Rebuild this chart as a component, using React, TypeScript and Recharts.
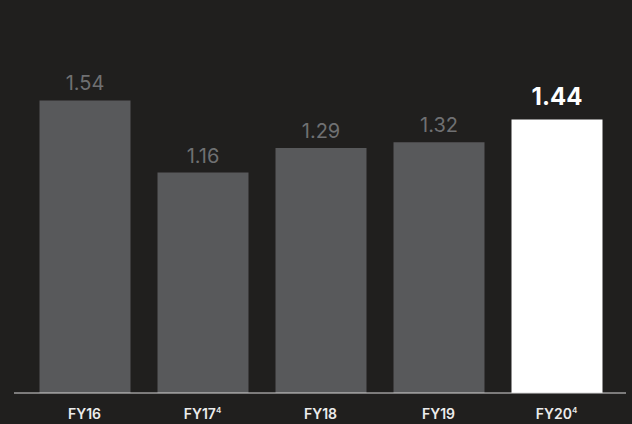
import { BarChart, Bar, XAxis, YAxis, Cell, LabelList } from 'recharts'

const years = ['FY16', 'FY17', 'FY18', 'FY19', 'FY20']
const footnotes = ['', '4', '', '', '4']
const values = [1.54, 1.16, 1.29, 1.32, 1.44]
const highlight = [false, false, false, false, true]

const data = years.map((year, i) => ({
    year,
    note: footnotes[i],
    value: values[i],
    current: highlight[i],
}))

const FONT = 'Inter, "Noto Sans", sans-serif'

function YearTick({ x, y, payload, index }: any) {
    const note = footnotes[index] || ''
    return (
        <text x={x} y={y + 18} textAnchor="middle" fill="#ececec" fontSize={14} fontWeight={600} fontFamily={FONT}>
            {payload.value}
            {note && (
                <tspan fontSize={8} dy={-6}>
                    {note}
                </tspan>
            )}
        </text>
    )
}

function ValueLabel({ x, y, width, value, index }: any) {
    const bold = highlight[index]
    return (
        <text
            x={x + width / 2}
            y={bold ? y - 14 : y - 10}
            textAnchor="middle"
            fill={bold ? '#ffffff' : '#6f7072'}
            fontSize={bold ? 24 : 20}
            fontWeight={bold ? 700 : 400}
            fontFamily={FONT}
        >
            {value.toFixed(2)}
        </text>
    )
}

export default function App() {
    return (
        <div style={{ position: 'fixed', left: 0, top: 0, width: 632, height: 424, background: '#201f1e' }}>
            <BarChart width={632} height={424} data={data} margin={{ top: 40, right: 6, bottom: 0, left: 14 }}>
                <XAxis
                    dataKey="year"
                    height={31}
                    padding={{ left: 11.5, right: 10.5 }}
                    axisLine={{ stroke: '#d9d9d9', strokeWidth: 1 }}
                    tickLine={false}
                    tick={<YearTick />}
                    interval={0}
                />
                <YAxis hide domain={[0, 1.858]} />
                <Bar dataKey="value" barSize={91} isAnimationActive={false}>
                    {data.map((d) => (
                        <Cell key={d.year} fill={d.current ? '#ffffff' : '#58595b'} />
                    ))}
                    <LabelList dataKey="value" content={<ValueLabel />} />
                </Bar>
            </BarChart>
        </div>
    )
}
